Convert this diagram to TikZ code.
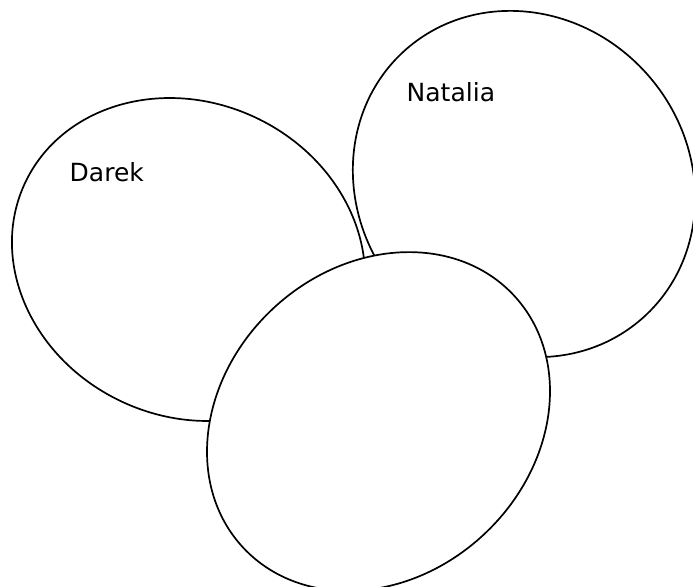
\documentclass[tikz,border=0pt]{standalone}
\usepackage{fontspec}
\setmainfont{DejaVu Sans}
\begin{document}
\begin{tikzpicture}[x=1pt,y=1pt,
  blob/.style={draw=black,fill=white,line width=1.7pt},
  lbl/.style={anchor=base west,inner sep=0pt,font=\fontsize{25}{30}\selectfont}]
\useasboundingbox (0,0) rectangle (693,586);
\fill[white] (0,0) rectangle (693,586);
% Darek
\draw[blob,rotate around={-25:(188.5,326.5)}] (188.5,326.5) ellipse [x radius=180.5, y radius=157];
% Natalia
\draw[blob,rotate around={-49:(524,402)}] (524,402) ellipse [x radius=179, y radius=165];
% bottom
\draw[blob,rotate around={43:(378.5,164.5)}] (378.5,164.5) ellipse [x radius=185, y radius=154.5];
\node[lbl] (darek) at (69.5,404.3) {Darek};
\node[lbl] (natalia) at (406.5,484.3) {Natalia};
\end{tikzpicture}
\end{document}
